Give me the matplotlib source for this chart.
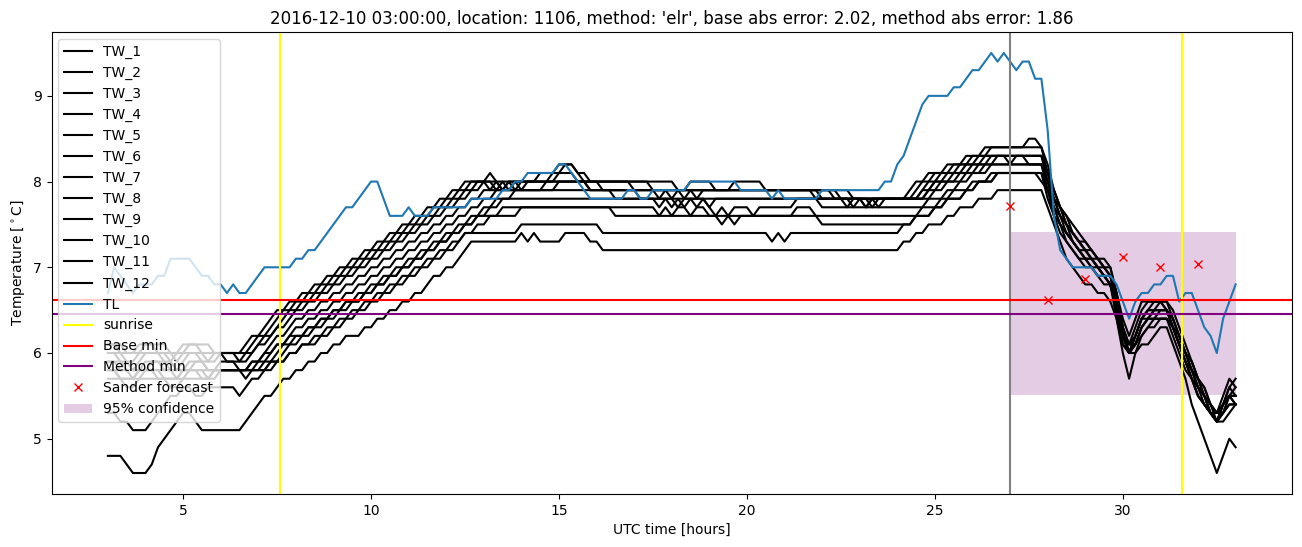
import numpy as np
import matplotlib
matplotlib.use("Agg")
import matplotlib.pyplot as plt

# ---- data (temperatures in tenths of a degree C, sampled every 10 minutes from 03:00 to 33:00) ----
TW_1 = [61,61,61,60,60,61,61,61,61,61,60,59,
        60,61,61,61,61,60,60,60,60,60,61,62,
        62,63,64,65,65,66,66,67,67,68,68,69,
        69,70,70,71,71,72,72,73,73,74,74,75,
        75,76,76,77,77,78,78,79,79,80,80,80,
        80,81,80,80,80,80,80,80,80,81,81,81,
        82,82,82,81,80,80,80,80,80,80,80,80,
        80,80,80,79,79,79,79,79,79,80,80,80,
        80,79,79,79,79,79,79,79,79,79,79,79,
        79,79,79,79,79,79,79,79,79,78,78,78,
        78,78,78,78,78,78,78,78,79,80,80,81,
        81,81,82,82,82,83,83,83,83,84,84,84,
        84,84,84,84,84,84,82,79,77,76,75,74,
        73,72,71,71,70,67,64,62,64,66,66,66,
        66,66,64,62,60,59,57,56,54,53,55,57,
        56]
TW_2 = [61,61,60,60,60,60,61,61,60,60,60,60,
        61,61,61,60,60,60,60,60,60,60,60,61,
        62,62,63,64,65,65,66,66,67,67,68,68,
        69,69,70,70,71,71,72,72,73,73,74,74,
        75,75,76,76,77,77,78,78,79,79,80,80,
        80,80,79,80,79,80,80,80,80,80,80,81,
        81,82,82,81,81,80,80,80,80,80,80,80,
        80,80,80,80,80,80,80,79,79,79,79,79,
        79,79,79,79,79,79,79,79,79,79,79,79,
        79,79,79,79,79,79,79,79,79,79,79,78,
        78,77,78,77,78,78,78,78,78,79,80,80,
        81,81,81,82,82,82,83,83,84,84,84,84,
        84,84,84,85,85,84,81,79,77,75,74,73,
        72,72,71,70,69,66,63,61,63,65,66,66,
        66,65,63,61,60,58,56,55,53,52,54,56,
        55]
TW_3 = [60,60,60,59,59,60,60,60,60,59,59,60,
        60,60,60,60,59,59,60,60,60,59,60,60,
        61,62,62,63,64,65,65,66,66,67,67,68,
        68,69,69,70,70,71,71,72,72,73,73,74,
        74,75,75,76,76,77,77,78,78,79,79,80,
        80,79,80,79,80,79,80,80,80,80,80,80,
        81,81,81,80,80,80,80,80,80,80,80,80,
        79,79,79,79,79,79,79,79,78,79,78,79,
        79,79,79,79,79,79,79,79,79,79,79,79,
        79,79,79,79,79,79,78,78,78,78,78,78,
        78,78,78,78,78,78,78,78,78,78,79,80,
        80,81,81,81,82,82,82,83,83,83,83,83,
        82,83,83,83,83,83,80,78,76,75,74,73,
        72,71,71,70,69,66,62,60,62,64,65,65,
        66,65,64,62,60,58,57,55,54,53,54,55,
        55]
TW_4 = [60,60,59,59,58,59,60,60,60,60,59,58,
        59,60,60,59,59,60,60,59,59,59,59,60,
        61,61,62,63,63,64,65,65,66,66,67,67,
        68,68,69,69,70,70,71,71,72,72,73,73,
        74,74,75,75,76,76,77,77,78,78,79,79,
        80,80,80,79,80,80,79,80,80,80,80,80,
        80,80,80,80,80,79,79,79,79,79,79,79,
        79,79,79,79,79,79,79,79,79,79,79,79,
        79,79,79,79,80,80,80,80,80,79,79,79,
        79,79,79,79,79,79,79,79,78,78,78,78,
        78,78,78,78,78,78,78,78,78,78,78,79,
        80,80,81,81,81,82,82,82,83,83,83,83,
        83,83,83,83,83,83,81,78,77,76,74,73,
        73,72,71,70,70,67,63,61,62,64,65,66,
        66,66,65,63,61,59,57,56,54,53,53,55,
        54]
TW_5 = [59,59,59,58,58,58,59,59,59,59,58,58,
        58,59,59,59,58,58,59,59,59,58,58,59,
        59,60,61,62,62,63,64,64,65,65,66,66,
        67,67,68,68,69,69,70,70,71,71,72,72,
        73,73,74,74,75,75,76,76,77,77,78,78,
        79,79,79,79,79,79,79,79,79,79,80,80,
        80,80,80,80,80,80,80,79,79,79,79,79,
        79,79,79,79,78,79,78,79,79,79,79,79,
        79,79,79,79,79,79,79,79,79,79,79,79,
        79,79,79,79,79,78,78,78,78,78,78,78,
        78,78,78,78,78,78,78,78,78,78,79,79,
        80,80,80,81,81,81,82,82,82,83,83,83,
        83,83,83,83,83,83,81,79,77,75,74,73,
        72,71,70,70,69,67,63,60,62,64,65,65,
        65,65,63,61,59,58,56,55,53,52,54,56,
        57]
TW_6 = [58,58,58,58,57,58,58,58,58,58,58,57,
        58,58,58,58,58,58,58,58,58,58,58,58,
        59,59,60,61,61,62,63,63,64,64,65,65,
        66,66,67,67,68,68,69,69,70,70,71,71,
        72,72,73,73,74,74,75,75,76,76,77,77,
        78,78,79,79,79,79,79,79,79,79,79,79,
        80,80,80,80,80,79,79,79,79,79,79,79,
        79,78,78,78,78,78,77,78,77,78,78,78,
        77,78,78,78,78,78,78,78,78,78,78,78,
        78,78,78,78,78,78,78,78,78,78,78,77,
        78,77,78,78,78,78,78,78,78,78,78,79,
        79,80,80,80,81,81,81,82,82,82,83,83,
        83,83,83,82,82,82,80,78,76,75,73,72,
        72,71,70,69,69,66,62,60,61,63,64,65,
        65,65,64,62,60,59,57,55,54,52,53,55,
        56]
TW_7 = [58,58,57,57,57,58,58,58,57,57,57,57,
        58,58,58,57,57,58,58,58,58,58,58,58,
        58,59,59,60,61,61,62,62,63,63,64,64,
        65,65,66,66,67,67,68,68,69,69,70,70,
        71,71,72,72,73,73,74,74,75,75,76,76,
        77,77,78,78,78,79,79,79,79,79,79,79,
        79,79,79,79,79,79,79,79,79,78,78,78,
        78,78,78,78,77,78,78,77,78,78,77,78,
        78,78,78,78,78,78,78,78,78,78,78,78,
        78,78,78,78,78,78,78,78,78,78,77,78,
        78,78,77,78,78,78,78,78,78,78,78,78,
        79,79,80,80,80,81,81,81,82,82,82,82,
        82,82,82,82,82,82,80,77,76,74,73,72,
        71,71,70,69,68,65,62,60,61,63,64,64,
        65,65,63,62,60,58,56,55,53,52,53,54,
        54]
TW_8 = [57,57,57,56,56,57,57,57,57,57,56,56,
        57,57,57,57,57,58,58,58,58,58,57,58,
        58,58,59,59,60,61,61,62,62,63,63,64,
        64,65,65,66,66,67,67,68,68,69,69,70,
        70,71,71,72,72,73,73,74,74,75,75,76,
        76,77,77,78,78,78,78,78,78,78,78,78,
        78,78,78,78,78,78,78,78,78,78,78,78,
        78,78,78,78,78,78,78,78,78,78,78,78,
        77,76,77,76,77,77,77,76,77,77,77,77,
        77,77,78,78,78,78,77,77,77,77,77,77,
        77,77,77,77,77,77,77,77,77,77,77,78,
        78,78,79,79,80,80,81,81,81,82,82,82,
        82,82,82,82,82,82,79,77,75,74,73,72,
        71,70,70,69,68,65,62,61,61,63,64,64,
        64,64,63,61,59,57,56,54,53,53,54,55,
        55]
TW_9 = [58,58,57,57,57,57,58,58,58,57,57,57,
        57,58,58,58,57,57,58,58,58,58,58,58,
        58,58,59,59,59,60,60,61,61,62,62,63,
        63,64,64,65,65,66,66,67,67,68,68,69,
        69,70,70,71,71,72,72,73,73,74,74,75,
        75,76,76,77,77,77,77,77,77,77,77,77,
        77,77,77,77,77,77,77,77,77,77,77,77,
        77,77,77,77,76,77,76,77,77,76,77,77,
        76,76,76,76,76,76,76,76,76,76,76,76,
        76,76,77,77,77,76,76,76,76,76,76,76,
        76,76,76,76,76,76,76,76,76,76,77,77,
        77,78,78,79,79,79,80,80,80,81,81,81,
        81,81,81,81,81,81,79,76,75,73,72,71,
        71,70,69,69,68,65,61,60,61,62,63,64,
        64,64,63,61,59,57,55,54,53,52,53,54,
        54]
TW_10 = [59,59,58,58,58,58,58,59,59,58,58,58,
         58,58,59,59,58,58,58,58,58,58,58,59,
         59,60,60,61,61,62,62,62,63,63,64,64,
         65,65,66,66,66,67,67,68,68,69,69,70,
         70,71,71,72,72,73,73,74,74,75,75,76,
         76,76,76,76,76,76,77,77,77,77,77,77,
         77,77,77,77,77,77,77,77,77,76,76,76,
         76,76,76,76,76,76,76,76,76,76,76,76,
         76,76,75,76,75,76,76,76,76,76,76,76,
         76,76,76,76,76,76,75,75,75,75,75,75,
         75,75,75,75,75,75,75,75,75,76,76,76,
         77,77,78,78,78,79,79,80,80,80,81,81,
         81,81,81,81,81,81,78,76,74,73,72,71,
         70,70,69,68,68,64,61,60,60,62,63,63,
         64,64,62,60,58,57,55,54,53,52,52,53,
         54]
TW_11 = [53,53,52,52,51,51,51,52,53,54,55,55,
         56,56,55,55,56,56,56,56,56,55,56,57,
         57,58,58,59,59,60,60,61,61,61,62,62,
         63,63,64,64,65,65,66,66,67,67,68,68,
         69,69,70,70,71,71,72,72,73,74,74,74,
         74,74,74,74,74,74,75,75,75,75,75,75,
         75,75,75,75,75,75,75,74,74,74,74,74,
         74,74,74,74,74,74,74,74,74,74,74,74,
         74,74,74,74,74,74,74,74,74,74,73,74,
         73,74,74,74,74,74,74,74,74,74,74,74,
         74,74,74,74,74,74,74,75,75,76,76,76,
         77,77,78,78,78,79,79,80,80,80,81,81,
         81,81,81,81,81,80,79,77,75,74,73,72,
         71,71,70,69,68,65,62,60,62,64,64,65,
         65,65,63,61,59,57,55,54,53,52,54,55,
         54]
TW_12 = [48,48,48,47,46,46,46,47,49,50,51,52,
         53,53,52,51,51,51,51,51,51,51,52,53,
         54,55,55,56,57,57,58,58,59,59,60,60,
         61,61,62,62,62,63,63,64,64,65,65,66,
         66,67,67,68,69,69,70,70,71,72,73,73,
         73,73,73,73,73,73,74,73,74,73,73,73,
         73,74,74,74,74,73,73,72,72,72,72,72,
         72,72,72,72,72,72,72,72,72,72,72,72,
         72,72,72,72,72,72,72,72,72,72,72,72,
         72,72,72,72,72,72,72,72,72,72,72,72,
         72,72,72,72,72,72,72,73,73,74,74,75,
         75,75,76,76,77,77,77,78,78,78,79,79,
         79,79,79,79,79,79,77,75,73,71,70,69,
         68,68,67,67,66,64,60,57,60,61,61,62,
         63,63,61,59,57,54,52,50,48,46,48,50,
         49]
TL = [67,70,69,68,67,68,68,68,69,69,71,71,
      71,71,70,69,69,68,68,67,68,67,67,68,
      69,70,70,70,70,70,71,71,72,72,73,74,
      75,76,77,77,78,79,80,80,78,76,76,76,
      77,76,76,76,77,77,77,77,77,77,78,78,
      78,78,78,79,79,80,80,81,81,81,81,81,
      82,82,81,80,79,78,78,78,78,78,78,79,
      79,78,78,79,79,79,79,79,79,80,80,80,
      80,80,80,80,80,79,79,79,79,79,78,79,
      78,78,78,78,78,78,79,79,79,79,79,79,
      79,79,79,79,80,80,82,83,85,87,89,90,
      90,90,90,91,91,92,93,93,94,95,94,95,
      94,93,94,94,92,92,86,76,72,71,70,70,
      70,70,69,69,69,68,66,64,66,67,67,68,
      68,69,69,66,67,67,65,63,62,60,64,66,
      68]

start_hour, end_hour = 3, 33
sunrise_hours = [7.57, 31.57]
forecast_start = 27
base_min = 6.62
method_min = 6.46
conf_low, conf_high = 5.51, 7.41
sander_hours = [27, 28, 29, 30, 31, 32]
sander_values = [7.71, 6.62, 6.86, 7.12, 7.00, 7.04]

title = ("2016-12-10 03:00:00, location: 1106, method: 'elr', "
         "base abs error: 2.02, method abs error: 1.86")

# ---- plot ----
tw_series = [TW_1, TW_2, TW_3, TW_4, TW_5, TW_6, TW_7, TW_8, TW_9, TW_10, TW_11, TW_12]
n = len(TL)
hours = np.linspace(start_hour, end_hour, n)

fig = plt.figure(figsize=(13.02, 5.47), dpi=100)
ax = fig.add_axes([51.5/1302, 53/547, (1292-51.5)/1302, (494-32)/547])

for k, s in enumerate(tw_series):
    v = np.asarray(s, dtype=float) / 10.0
    ax.plot(hours[:len(v)], v, color='black', label=f'TW_{k+1}')
tl = np.asarray(TL, dtype=float) / 10.0
ax.plot(hours[:len(tl)], tl, color='C0', label='TL')

for j, sr in enumerate(sunrise_hours):
    ax.axvline(sr, color='yellow', label='sunrise' if j == 0 else None)
ax.axvline(forecast_start, color='gray')
ax.axhline(base_min, color='red', label='Base min')
ax.axhline(method_min, color='purple', label='Method min')
ax.plot(sander_hours, sander_values, 'x', color='red', label='Sander forecast')
ax.fill_between([forecast_start, end_hour], [conf_low, conf_low], [conf_high, conf_high],
                color='purple', alpha=0.2, linewidth=0, label='95% confidence')

ax.set_title(title)
ax.set_xlabel('UTC time [hours]')
ax.set_ylabel(r'Temperature [$^\circ$C]')
ax.legend(loc='upper left')

fig.savefig('out.png', dpi=100)
